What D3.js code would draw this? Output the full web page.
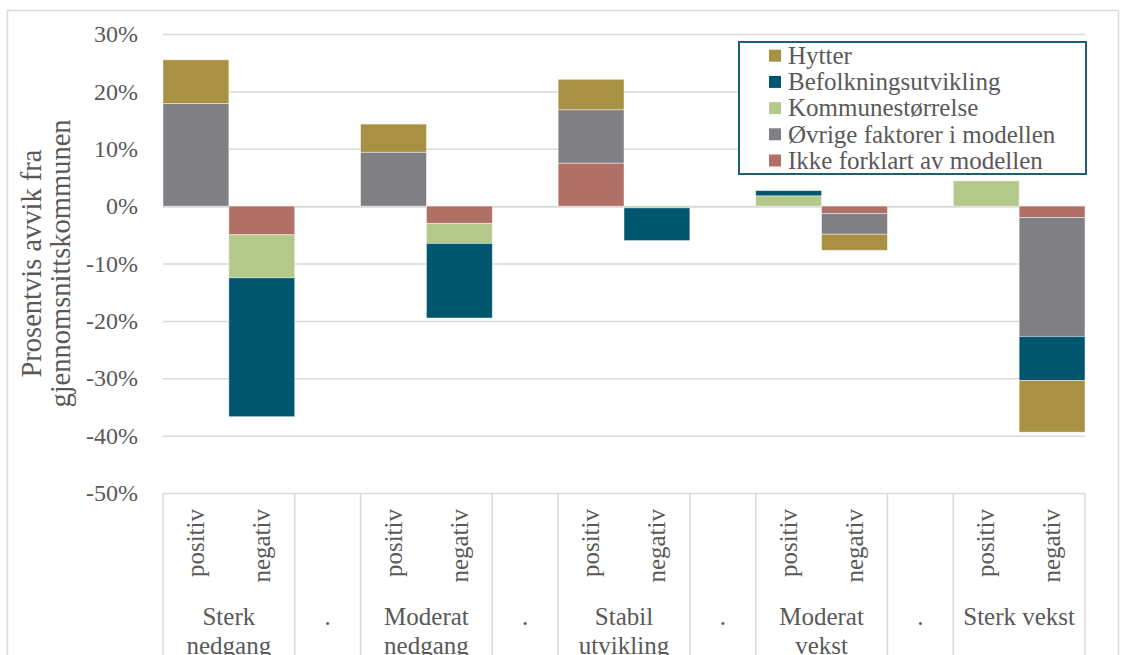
<!DOCTYPE html>
<html>
<head>
<meta charset="utf-8">
<script src="https://cdn.jsdelivr.net/npm/d3@7"></script>
<style>
	body { margin: 0; background: #fff; }
	text { font-family: "Liberation Serif", "DejaVu Serif", serif; fill: #595959; }
</style>
</head>
<body>
<svg id="chart" width="1130" height="655"></svg>
<script>

// slots along the x axis: group + sub label ("" for the empty spacer slots)
var slotGroups = ["Sterk nedgang", "Sterk nedgang", "gap1", "Moderat nedgang", "Moderat nedgang", "gap2",
	"Stabil utvikling", "Stabil utvikling", "gap3", "Moderat vekst", "Moderat vekst", "gap4",
	"Sterk vekst", "Sterk vekst"];
var slotSubs = ["positiv", "negativ", "", "positiv", "negativ", "", "positiv", "negativ", "",
	"positiv", "negativ", "", "positiv", "negativ"];

var groupNames = ["Sterk nedgang", "gap1", "Moderat nedgang", "gap2", "Stabil utvikling", "gap3", "Moderat vekst", "gap4", "Sterk vekst"];
var groupLabels = [["Sterk", "nedgang"], ["."], ["Moderat", "nedgang"], ["."], ["Stabil", "utvikling"], ["."], ["Moderat", "vekst"], ["."], ["Sterk vekst"]];

// series values in percent, one per slot (spacer slots are 0)
var ikkeForklart = [0, -5.0, 0, 0, -3.0, 0, 7.5, 0, 0, 0, -1.3, 0, 0, -2.0];
var ovrige       = [17.9, 0, 0, 9.4, 0, 0, 9.3, 0, 0, 0, -3.6, 0, 0, -20.7];
var kommune      = [0, -7.5, 0, 0, -3.5, 0, 0, -0.3, 0, 1.8, 0, 0, 4.4, 0];
var befolkning   = [0, -24.2, 0, 0, -13.0, 0, 0, -5.7, 0, 0.9, 0, 0, 0, -7.7];
var hytter       = [7.6, 0, 0, 4.9, 0, 0, 5.3, 0, 0, 0, -2.8, 0, 0, -9.0];

var seriesNames = ["Ikke forklart av modellen", "Øvrige faktorer i modellen", "Kommunestørrelse", "Befolkningsutvikling", "Hytter"];
var seriesColors = ["#b07066", "#807f84", "#b3c98a", "#00566e", "#a89142"];

var yTicks = [30, 20, 10, 0, -10, -20, -30, -40, -50];

var svg = d3.select("#chart");

var table = slotGroups.map(function(g, i) {
	return {
		slot: i,
		"Ikke forklart av modellen": ikkeForklart[i],
		"Øvrige faktorer i modellen": ovrige[i],
		"Kommunestørrelse": kommune[i],
		"Befolkningsutvikling": befolkning[i],
		"Hytter": hytter[i]
	};
});

// plot area (window.top is reserved, so no "top" here)
var plotL = 163, plotR = 1085, plotT = 34, plotB = 493;

var x = d3.scaleBand()
	.domain(d3.range(slotGroups.length))
	.range([plotL, plotR])
	.padding(0);

var y = d3.scaleLinear()
	.domain([-50, 30])
	.range([plotB, plotT]);

var color = d3.scaleOrdinal().domain(seriesNames).range(seriesColors);

// outer chart frame
svg.append("rect")
	.attr("x", 7.5).attr("y", 10.5)
	.attr("width", 1111).attr("height", 700)
	.attr("fill", "none")
	.attr("stroke", "#d9d9d9")
	.attr("stroke-width", 1.5);

// gridlines + y labels
var yAxis = d3.axisLeft(y)
	.tickValues(yTicks)
	.tickSize(-(plotR - plotL))
	.tickPadding(25)
	.tickFormat(function(d) { return d + "%"; });

var gy = svg.append("g")
	.attr("transform", "translate(" + plotL + ",0)")
	.call(yAxis);

gy.select(".domain").remove();
gy.selectAll(".tick line")
	.attr("stroke", "#d9d9d9")
	.attr("stroke-width", function(d) { return d === 0 ? 2 : 1.5; });
gy.selectAll(".tick text")
	.attr("font-size", 24)
	.attr("fill", "#595959")
	.attr("font-family", "Liberation Serif");

// stacked bars
var stack = d3.stack()
	.keys(seriesNames)
	.offset(d3.stackOffsetDiverging);

var layers = stack(table);

svg.append("g")
	.selectAll("g")
	.data(layers)
	.join("g")
	.attr("fill", function(d) { return color(d.key); })
	.selectAll("rect")
	.data(function(d) { return d.filter(function(e) { return e[1] - e[0] !== 0; }); })
	.join("rect")
	.attr("x", function(d) { return x(d.data.slot); })
	.attr("width", x.bandwidth())
	.attr("y", function(d) { return y(Math.max(d[0], d[1])); })
	.attr("height", function(d) { return Math.abs(y(d[0]) - y(d[1])); })
	.attr("stroke", "#ffffff")
	.attr("stroke-opacity", 0.55)
	.attr("stroke-width", 0.8);

// category axis: separators between groups
var bounds = [plotL];
groupNames.forEach(function(g) {
	var idx = slotGroups.lastIndexOf(g);
	bounds.push(x(idx) + x.bandwidth());
});

svg.append("g")
	.selectAll("line")
	.data(bounds)
	.join("line")
	.attr("x1", function(d) { return d; })
	.attr("x2", function(d) { return d; })
	.attr("y1", plotB)
	.attr("y2", 660)
	.attr("stroke", "#d9d9d9")
	.attr("stroke-width", 1.5);

// rotated sub labels
svg.append("g")
	.selectAll("text")
	.data(slotSubs.map(function(s, i) { return { s: s, i: i }; }).filter(function(d) { return d.s !== ""; }))
	.join("text")
	.attr("transform", function(d) {
		return "translate(" + (x(d.i) + x.bandwidth() / 2) + "," + 509 + ") rotate(-90)";
	})
	.attr("text-anchor", "end")
	.attr("dy", "0.33em")
	.attr("font-size", 25)
	.text(function(d) { return d.s; });

// group labels
var gl = svg.append("g")
	.selectAll("text")
	.data(groupNames)
	.join("text")
	.attr("text-anchor", "middle")
	.attr("font-size", 25)
	.attr("x", function(g, i) {
		var a = slotGroups.indexOf(g), b = slotGroups.lastIndexOf(g);
		return (x(a) + x(b) + x.bandwidth()) / 2;
	})
	.attr("y", 625);

gl.selectAll("tspan")
	.data(function(g, i) { return groupLabels[i]; })
	.join("tspan")
	.attr("x", function() { return this.parentNode.getAttribute("x"); })
	.attr("dy", function(d, i) { return i === 0 ? 0 : 29; })
	.text(function(d) { return d; });

// y axis title
svg.append("text")
	.attr("transform", "translate(41," + ((plotT + plotB) / 2) + ") rotate(-90)")
	.attr("text-anchor", "middle")
	.attr("font-size", 28.5)
	.selectAll("tspan")
	.data(["Prosentvis avvik fra", "gjennomsnittskommunen"])
	.join("tspan")
	.attr("x", 0)
	.attr("dy", function(d, i) { return i === 0 ? 0 : 29; })
	.text(function(d) { return d; });

// legend
var legendItems = seriesNames.slice().reverse();

var legend = svg.append("g");

legend.append("rect")
	.attr("x", 739).attr("y", 42)
	.attr("width", 347).attr("height", 132)
	.attr("fill", "#fff")
	.attr("stroke", "#1f5f74")
	.attr("stroke-width", 2);

var li = legend.selectAll(".item")
	.data(legendItems)
	.join("g")
	.attr("class", "item")
	.attr("transform", function(d, i) { return "translate(769," + (55.7 + i * 26.2) + ")"; });

li.append("rect")
	.attr("x", 0).attr("y", -6)
	.attr("width", 12).attr("height", 12)
	.attr("fill", function(d) { return color(d); });

li.append("text")
	.attr("x", 19)
	.attr("dy", "0.33em")
	.attr("font-size", 25)
	.text(function(d) { return d; });

</script>
</body>
</html>
